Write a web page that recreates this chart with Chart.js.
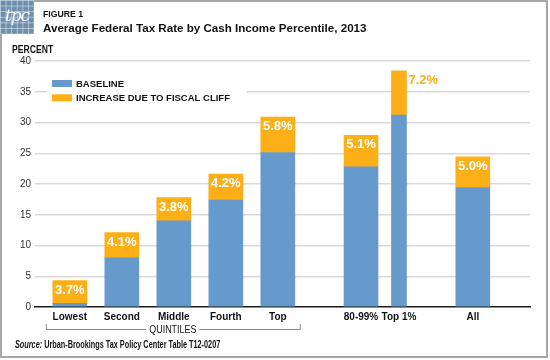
<!DOCTYPE html>
<html><head><meta charset="utf-8">
<script src="https://cdn.jsdelivr.net/npm/chart.js@4.4.1/dist/chart.umd.min.js"></script>
<style>
html,body{margin:0;padding:0;background:#fff;}
body{width:550px;height:360px;position:relative;overflow:hidden;font-family:"Liberation Sans",Arial,sans-serif;}
canvas{position:absolute;left:0;top:0;}
#frame{position:absolute;left:0;top:0;width:548px;height:358px;box-sizing:border-box;border:2px solid #a8a8a8;}
#logo{position:absolute;left:0;top:0;width:34px;height:34px;background-color:#6f8fb1;background-image:linear-gradient(rgba(255,255,255,.45) 1px,transparent 1px),linear-gradient(90deg,rgba(255,255,255,.45) 1px,transparent 1px);background-size:5.6px 5.6px;color:#fff;font:italic 17px "DejaVu Serif",serif;line-height:30px;text-align:center;letter-spacing:-1px;}
.t{position:absolute;white-space:nowrap;color:#111;transform-origin:0 50%;}
#fig{left:43px;top:9px;font:bold 8.7px "Liberation Sans";line-height:11px;}
#title{left:43px;top:21px;font:bold 11.6px "Liberation Sans";line-height:14px;}
#percent{left:12px;top:43px;font:bold 10.5px "Liberation Sans";line-height:12px;}
#source{left:15px;top:339px;font:bold 10px "Liberation Sans";line-height:12px;}
</style></head>
<body>
<canvas id="c" width="550" height="360"></canvas>
<div id="frame"></div>
<div id="logo">tpc</div>
<div class="t" id="fig">FIGURE 1</div>
<div class="t" id="title">Average Federal Tax Rate by Cash Income Percentile, 2013</div>
<div class="t" id="percent">PERCENT</div>
<div class="t" id="source"><i>Source:</i> Urban-Brookings Tax Policy Center Table T12-0207</div>
<script>
// ---- data ----
const categories = ['Lowest','Second','Middle','Fourth','Top','80-99%','Top 1%','All'];
const baseline = [0.6, 8.0, 14.0, 17.4, 25.1, 22.8, 31.2, 19.4];
const increase = [3.7, 4.1, 3.8, 4.2, 5.8, 5.1, 7.2, 5.0];
const yTickValues = [0, 5, 10, 15, 20, 25, 30, 35, 40];
const seriesNames = ['BASELINE', 'INCREASE DUE TO FISCAL CLIFF'];
const groupLabel = 'QUINTILES';
const quintileCount = 5;

// ---- layout (axis positions of category slots, not data) ----
const slotPos = [1, 2, 3, 4, 5, 6.6, 7.33, 8.75];
const BLUE = '#6699cc', ORANGE = '#fcaf17';
const narrowIdx = categories.indexOf('Top 1%');

// condense header/footer text to the reference widths
function condense(id, targetW) {
  const el = document.getElementById(id);
  el.style.transform = 'scaleX(' + (targetW / el.offsetWidth) + ')';
}
condense('percent', 41);
condense('source', 205);

function pts(arr, narrow) {
  return categories.map((c, i) => ({x: slotPos[i], y: arr[i], i}))
    .filter(p => narrow ? p.i === narrowIdx : p.i !== narrowIdx);
}

const labelPlugin = {
  id: 'labels',
  afterDatasetsDraw(chart) {
    const ctx = chart.ctx;
    ctx.save();
    ctx.font = 'bold 13px "Liberation Sans"';
    ctx.textBaseline = 'middle';
    [2, 3].forEach(di => {
      const meta = chart.getDatasetMeta(di);
      meta.data.forEach((el, j) => {
        const i = chart.data.datasets[di].data[j].i;
        const txt = increase[i].toFixed(1) + '%';
        if (i === narrowIdx) {
          ctx.fillStyle = ORANGE; ctx.textAlign = 'left';
          ctx.fillText(txt, el.x + el.width / 2 + 2, el.y + 10);
        } else {
          ctx.fillStyle = '#fff'; ctx.textAlign = 'center';
          ctx.fillText(txt, el.x, el.y + 9.5);
        }
      });
    });
    ctx.restore();
  }
};

const legendPlugin = {
  id: 'legendBox',
  afterDatasetsDraw(chart) {
    const ctx = chart.ctx;
    ctx.save();
    ctx.fillStyle = '#fff';
    ctx.fillRect(47, 75, 200, 30);
    const colors = [BLUE, ORANGE];
    const ys = [83.5, 97.8];
    ctx.font = 'bold 9.5px "Liberation Sans"';
    ctx.textBaseline = 'middle';
    ctx.textAlign = 'left';
    seriesNames.forEach((n, k) => {
      ctx.fillStyle = colors[k];
      ctx.fillRect(52, ys[k] - 3.5, 20, 7);
      ctx.fillStyle = '#111';
      ctx.fillText(n, 76, ys[k] + 0.5);
    });
    ctx.restore();
  }
};

const bracketPlugin = {
  id: 'bracket',
  afterDraw(chart) {
    const ctx = chart.ctx;
    const xs = chart.scales.x;
    const left = xs.getPixelForValue(slotPos[0]) - 24;
    const right = xs.getPixelForValue(slotPos[quintileCount - 1]) + 22;
    const y = 329.5, mid = (left + right) / 2;
    ctx.save();
    ctx.font = '11px "Liberation Sans"';
    const sx = 0.81;
    const w = ctx.measureText(groupLabel).width * sx;
    ctx.strokeStyle = '#8a8a8a';
    ctx.lineWidth = 1;
    ctx.beginPath();
    ctx.moveTo(left + 0.5, 324); ctx.lineTo(left + 0.5, y); ctx.lineTo(mid - w / 2 - 3, y);
    ctx.moveTo(mid + w / 2 + 3, y); ctx.lineTo(right + 0.5, y); ctx.lineTo(right + 0.5, 324);
    ctx.stroke();
    ctx.fillStyle = '#111';
    ctx.textAlign = 'center';
    ctx.textBaseline = 'middle';
    ctx.translate(mid, y);
    ctx.scale(sx, 1);
    ctx.fillText(groupLabel, 0, 0);
    ctx.restore();
  }
};

new Chart(document.getElementById('c'), {
  type: 'bar',
  data: {
    datasets: [
      {label: seriesNames[0], data: pts(baseline, false), backgroundColor: BLUE, barThickness: 34, grouped: false},
      {label: seriesNames[0], data: pts(baseline, true), backgroundColor: BLUE, barThickness: 15, grouped: false},
      {label: seriesNames[1], data: pts(increase, false), backgroundColor: ORANGE, barThickness: 34, grouped: false},
      {label: seriesNames[1], data: pts(increase, true), backgroundColor: ORANGE, barThickness: 15, grouped: false}
    ]
  },
  options: {
    responsive: false,
    animation: false,
    devicePixelRatio: 1,
    layout: {padding: {top: 61, right: 20, bottom: 0, left: 0}},
    plugins: {legend: {display: false}, tooltip: {enabled: false}},
    scales: {
      x: {
        type: 'linear', min: 0.33, max: 9.85, offset: false,
        grid: {display: false, drawTicks: false},
        border: {display: true, color: '#1a1a1a', width: 1.5},
        afterBuildTicks(s) { s.ticks = slotPos.map(v => ({value: v})); },
        afterFit(s) { s.height = 53; },
        ticks: {
          autoSkip: false, maxRotation: 0, padding: 4, color: '#111',
          font: {family: 'Liberation Sans', size: 10, weight: 'bold'},
          callback: (v, i) => categories[i]
        }
      },
      y: {
        stacked: true, min: 0, max: 40,
        afterBuildTicks(s) { s.ticks = yTickValues.map(v => ({value: v})); },
        afterFit(s) { s.width = 35; },
        border: {display: false},
        grid: {
          drawTicks: false, lineWidth: 1.5,
          color: c => (c.tick && c.tick.value === 0) ? 'rgba(0,0,0,0)' : '#d9d9d9'
        },
        ticks: {padding: 4, color: '#333', font: {family: 'Liberation Sans', size: 10}}
      }
    }
  },
  plugins: [labelPlugin, legendPlugin, bracketPlugin]
});
</script>
</body></html>
